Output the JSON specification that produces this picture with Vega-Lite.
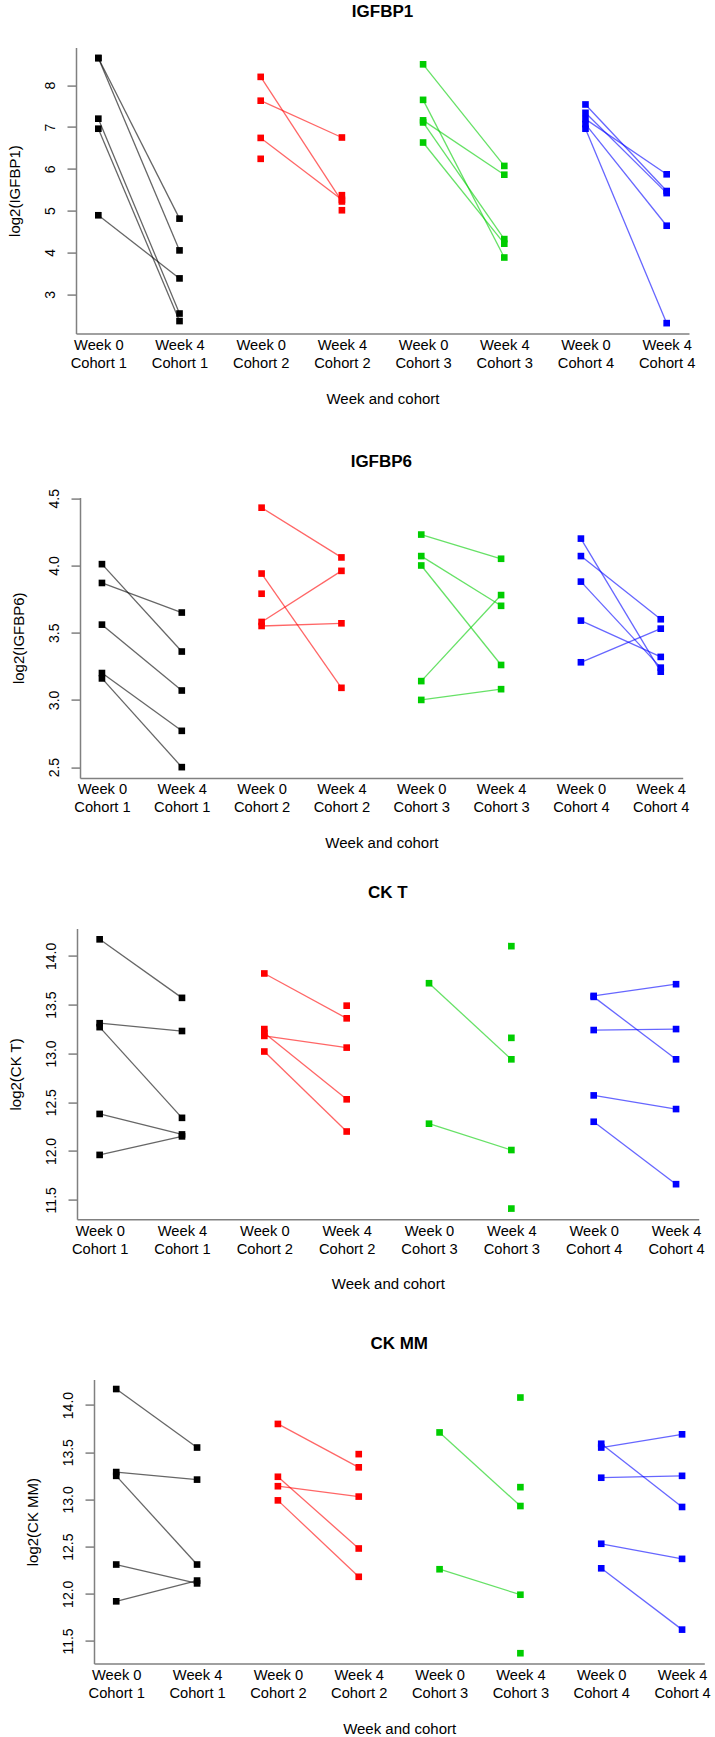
{
 "$schema": "https://vega.github.io/schema/vega-lite/v6.json",
 "padding": {"left": 6, "top": 2.6, "right": 3, "bottom": 0},
 "background": "white",
 "datasets": {"d": [
  {"p":"IGFBP1","c":"1","s":"a","x":"Week 0|Cohort 1","v":8.65},{"p":"IGFBP1","c":"1","s":"a","x":"Week 4|Cohort 1","v":4.81},
  {"p":"IGFBP1","c":"1","s":"b","x":"Week 0|Cohort 1","v":8.65},{"p":"IGFBP1","c":"1","s":"b","x":"Week 4|Cohort 1","v":4.05},
  {"p":"IGFBP1","c":"1","s":"c","x":"Week 0|Cohort 1","v":7.20},{"p":"IGFBP1","c":"1","s":"c","x":"Week 4|Cohort 1","v":2.54},
  {"p":"IGFBP1","c":"1","s":"d","x":"Week 0|Cohort 1","v":6.96},{"p":"IGFBP1","c":"1","s":"d","x":"Week 4|Cohort 1","v":2.36},
  {"p":"IGFBP1","c":"1","s":"e","x":"Week 0|Cohort 1","v":4.89},{"p":"IGFBP1","c":"1","s":"e","x":"Week 4|Cohort 1","v":3.38},
  {"p":"IGFBP1","c":"2","s":"a","x":"Week 0|Cohort 2","v":8.20},{"p":"IGFBP1","c":"2","s":"a","x":"Week 4|Cohort 2","v":5.22},
  {"p":"IGFBP1","c":"2","s":"b","x":"Week 0|Cohort 2","v":7.63},{"p":"IGFBP1","c":"2","s":"b","x":"Week 4|Cohort 2","v":6.75},
  {"p":"IGFBP1","c":"2","s":"c","x":"Week 0|Cohort 2","v":6.74},{"p":"IGFBP1","c":"2","s":"c","x":"Week 4|Cohort 2","v":5.26},
  {"p":"IGFBP1","c":"2","s":"d","x":"Week 0|Cohort 2","v":6.24},
  {"p":"IGFBP1","c":"2","s":"e","x":"Week 4|Cohort 2","v":5.37},
  {"p":"IGFBP1","c":"2","s":"f","x":"Week 4|Cohort 2","v":5.01},
  {"p":"IGFBP1","c":"3","s":"a","x":"Week 0|Cohort 3","v":8.50},{"p":"IGFBP1","c":"3","s":"a","x":"Week 4|Cohort 3","v":6.07},
  {"p":"IGFBP1","c":"3","s":"b","x":"Week 0|Cohort 3","v":7.65},{"p":"IGFBP1","c":"3","s":"b","x":"Week 4|Cohort 3","v":3.88},
  {"p":"IGFBP1","c":"3","s":"c","x":"Week 0|Cohort 3","v":7.16},{"p":"IGFBP1","c":"3","s":"c","x":"Week 4|Cohort 3","v":5.86},
  {"p":"IGFBP1","c":"3","s":"d","x":"Week 0|Cohort 3","v":7.11},{"p":"IGFBP1","c":"3","s":"d","x":"Week 4|Cohort 3","v":4.32},
  {"p":"IGFBP1","c":"3","s":"e","x":"Week 0|Cohort 3","v":6.63},{"p":"IGFBP1","c":"3","s":"e","x":"Week 4|Cohort 3","v":4.21},
  {"p":"IGFBP1","c":"4","s":"a","x":"Week 0|Cohort 4","v":7.54},{"p":"IGFBP1","c":"4","s":"a","x":"Week 4|Cohort 4","v":5.47},
  {"p":"IGFBP1","c":"4","s":"b","x":"Week 0|Cohort 4","v":7.34},{"p":"IGFBP1","c":"4","s":"b","x":"Week 4|Cohort 4","v":5.42},
  {"p":"IGFBP1","c":"4","s":"c","x":"Week 0|Cohort 4","v":7.19},{"p":"IGFBP1","c":"4","s":"c","x":"Week 4|Cohort 4","v":5.87},
  {"p":"IGFBP1","c":"4","s":"d","x":"Week 0|Cohort 4","v":7.07},{"p":"IGFBP1","c":"4","s":"d","x":"Week 4|Cohort 4","v":4.64},
  {"p":"IGFBP1","c":"4","s":"e","x":"Week 0|Cohort 4","v":6.96},{"p":"IGFBP1","c":"4","s":"e","x":"Week 4|Cohort 4","v":2.31},

  {"p":"IGFBP6","c":"1","s":"a","x":"Week 0|Cohort 1","v":4.01},{"p":"IGFBP6","c":"1","s":"a","x":"Week 4|Cohort 1","v":3.36},
  {"p":"IGFBP6","c":"1","s":"b","x":"Week 0|Cohort 1","v":3.87},{"p":"IGFBP6","c":"1","s":"b","x":"Week 4|Cohort 1","v":3.65},
  {"p":"IGFBP6","c":"1","s":"c","x":"Week 0|Cohort 1","v":3.56},{"p":"IGFBP6","c":"1","s":"c","x":"Week 4|Cohort 1","v":3.07},
  {"p":"IGFBP6","c":"1","s":"d","x":"Week 0|Cohort 1","v":3.20},{"p":"IGFBP6","c":"1","s":"d","x":"Week 4|Cohort 1","v":2.77},
  {"p":"IGFBP6","c":"1","s":"e","x":"Week 0|Cohort 1","v":3.16},{"p":"IGFBP6","c":"1","s":"e","x":"Week 4|Cohort 1","v":2.50},
  {"p":"IGFBP6","c":"2","s":"a","x":"Week 0|Cohort 2","v":4.43},{"p":"IGFBP6","c":"2","s":"a","x":"Week 4|Cohort 2","v":4.06},
  {"p":"IGFBP6","c":"2","s":"b","x":"Week 0|Cohort 2","v":3.94},{"p":"IGFBP6","c":"2","s":"b","x":"Week 4|Cohort 2","v":3.09},
  {"p":"IGFBP6","c":"2","s":"c","x":"Week 0|Cohort 2","v":3.58},{"p":"IGFBP6","c":"2","s":"c","x":"Week 4|Cohort 2","v":3.96},
  {"p":"IGFBP6","c":"2","s":"d","x":"Week 0|Cohort 2","v":3.55},{"p":"IGFBP6","c":"2","s":"d","x":"Week 4|Cohort 2","v":3.57},
  {"p":"IGFBP6","c":"2","s":"e","x":"Week 0|Cohort 2","v":3.79},
  {"p":"IGFBP6","c":"3","s":"a","x":"Week 0|Cohort 3","v":4.23},{"p":"IGFBP6","c":"3","s":"a","x":"Week 4|Cohort 3","v":4.05},
  {"p":"IGFBP6","c":"3","s":"b","x":"Week 0|Cohort 3","v":4.07},{"p":"IGFBP6","c":"3","s":"b","x":"Week 4|Cohort 3","v":3.70},
  {"p":"IGFBP6","c":"3","s":"c","x":"Week 0|Cohort 3","v":4.00},{"p":"IGFBP6","c":"3","s":"c","x":"Week 4|Cohort 3","v":3.26},
  {"p":"IGFBP6","c":"3","s":"d","x":"Week 0|Cohort 3","v":3.14},{"p":"IGFBP6","c":"3","s":"d","x":"Week 4|Cohort 3","v":3.78},
  {"p":"IGFBP6","c":"3","s":"e","x":"Week 0|Cohort 3","v":3.00},{"p":"IGFBP6","c":"3","s":"e","x":"Week 4|Cohort 3","v":3.08},
  {"p":"IGFBP6","c":"4","s":"a","x":"Week 0|Cohort 4","v":4.20},{"p":"IGFBP6","c":"4","s":"a","x":"Week 4|Cohort 4","v":3.21},
  {"p":"IGFBP6","c":"4","s":"b","x":"Week 0|Cohort 4","v":4.07},{"p":"IGFBP6","c":"4","s":"b","x":"Week 4|Cohort 4","v":3.60},
  {"p":"IGFBP6","c":"4","s":"c","x":"Week 0|Cohort 4","v":3.88},{"p":"IGFBP6","c":"4","s":"c","x":"Week 4|Cohort 4","v":3.24},
  {"p":"IGFBP6","c":"4","s":"d","x":"Week 0|Cohort 4","v":3.59},{"p":"IGFBP6","c":"4","s":"d","x":"Week 4|Cohort 4","v":3.32},
  {"p":"IGFBP6","c":"4","s":"e","x":"Week 0|Cohort 4","v":3.28},{"p":"IGFBP6","c":"4","s":"e","x":"Week 4|Cohort 4","v":3.53},

  {"p":"CK T","c":"1","s":"a","x":"Week 0|Cohort 1","v":14.17},{"p":"CK T","c":"1","s":"a","x":"Week 4|Cohort 1","v":13.57},
  {"p":"CK T","c":"1","s":"b","x":"Week 0|Cohort 1","v":13.31},{"p":"CK T","c":"1","s":"b","x":"Week 4|Cohort 1","v":13.23},
  {"p":"CK T","c":"1","s":"c","x":"Week 0|Cohort 1","v":13.27},{"p":"CK T","c":"1","s":"c","x":"Week 4|Cohort 1","v":12.34},
  {"p":"CK T","c":"1","s":"d","x":"Week 0|Cohort 1","v":12.38},{"p":"CK T","c":"1","s":"d","x":"Week 4|Cohort 1","v":12.17},
  {"p":"CK T","c":"1","s":"e","x":"Week 0|Cohort 1","v":11.96},{"p":"CK T","c":"1","s":"e","x":"Week 4|Cohort 1","v":12.15},
  {"p":"CK T","c":"2","s":"a","x":"Week 0|Cohort 2","v":13.82},{"p":"CK T","c":"2","s":"a","x":"Week 4|Cohort 2","v":13.36},
  {"p":"CK T","c":"2","s":"b","x":"Week 0|Cohort 2","v":13.21},{"p":"CK T","c":"2","s":"b","x":"Week 4|Cohort 2","v":12.53},
  {"p":"CK T","c":"2","s":"c","x":"Week 0|Cohort 2","v":13.18},{"p":"CK T","c":"2","s":"c","x":"Week 4|Cohort 2","v":13.06},
  {"p":"CK T","c":"2","s":"d","x":"Week 0|Cohort 2","v":13.02},{"p":"CK T","c":"2","s":"d","x":"Week 4|Cohort 2","v":12.20},
  {"p":"CK T","c":"2","s":"e","x":"Week 0|Cohort 2","v":13.25},
  {"p":"CK T","c":"2","s":"f","x":"Week 4|Cohort 2","v":13.49},
  {"p":"CK T","c":"3","s":"a","x":"Week 0|Cohort 3","v":13.72},{"p":"CK T","c":"3","s":"a","x":"Week 4|Cohort 3","v":12.94},
  {"p":"CK T","c":"3","s":"b","x":"Week 0|Cohort 3","v":12.28},{"p":"CK T","c":"3","s":"b","x":"Week 4|Cohort 3","v":12.01},
  {"p":"CK T","c":"3","s":"c","x":"Week 4|Cohort 3","v":14.10},
  {"p":"CK T","c":"3","s":"d","x":"Week 4|Cohort 3","v":13.16},
  {"p":"CK T","c":"3","s":"e","x":"Week 4|Cohort 3","v":11.41},
  {"p":"CK T","c":"4","s":"a","x":"Week 0|Cohort 4","v":13.59},{"p":"CK T","c":"4","s":"a","x":"Week 4|Cohort 4","v":13.71},
  {"p":"CK T","c":"4","s":"b","x":"Week 0|Cohort 4","v":13.58},{"p":"CK T","c":"4","s":"b","x":"Week 4|Cohort 4","v":12.94},
  {"p":"CK T","c":"4","s":"c","x":"Week 0|Cohort 4","v":13.24},{"p":"CK T","c":"4","s":"c","x":"Week 4|Cohort 4","v":13.25},
  {"p":"CK T","c":"4","s":"d","x":"Week 0|Cohort 4","v":12.57},{"p":"CK T","c":"4","s":"d","x":"Week 4|Cohort 4","v":12.43},
  {"p":"CK T","c":"4","s":"e","x":"Week 0|Cohort 4","v":12.30},{"p":"CK T","c":"4","s":"e","x":"Week 4|Cohort 4","v":11.66},

  {"p":"CK MM","c":"1","s":"a","x":"Week 0|Cohort 1","v":14.17},{"p":"CK MM","c":"1","s":"a","x":"Week 4|Cohort 1","v":13.55},
  {"p":"CK MM","c":"1","s":"b","x":"Week 0|Cohort 1","v":13.29},{"p":"CK MM","c":"1","s":"b","x":"Week 4|Cohort 1","v":13.21},
  {"p":"CK MM","c":"1","s":"c","x":"Week 0|Cohort 1","v":13.25},{"p":"CK MM","c":"1","s":"c","x":"Week 4|Cohort 1","v":12.31},
  {"p":"CK MM","c":"1","s":"d","x":"Week 0|Cohort 1","v":12.31},{"p":"CK MM","c":"1","s":"d","x":"Week 4|Cohort 1","v":12.11},
  {"p":"CK MM","c":"1","s":"e","x":"Week 0|Cohort 1","v":11.92},{"p":"CK MM","c":"1","s":"e","x":"Week 4|Cohort 1","v":12.14},
  {"p":"CK MM","c":"2","s":"a","x":"Week 0|Cohort 2","v":13.80},{"p":"CK MM","c":"2","s":"a","x":"Week 4|Cohort 2","v":13.34},
  {"p":"CK MM","c":"2","s":"b","x":"Week 0|Cohort 2","v":13.24},{"p":"CK MM","c":"2","s":"b","x":"Week 4|Cohort 2","v":12.48},
  {"p":"CK MM","c":"2","s":"c","x":"Week 0|Cohort 2","v":13.14},{"p":"CK MM","c":"2","s":"c","x":"Week 4|Cohort 2","v":13.03},
  {"p":"CK MM","c":"2","s":"d","x":"Week 0|Cohort 2","v":12.99},{"p":"CK MM","c":"2","s":"d","x":"Week 4|Cohort 2","v":12.18},
  {"p":"CK MM","c":"2","s":"e","x":"Week 4|Cohort 2","v":13.48},
  {"p":"CK MM","c":"3","s":"a","x":"Week 0|Cohort 3","v":13.71},{"p":"CK MM","c":"3","s":"a","x":"Week 4|Cohort 3","v":12.93},
  {"p":"CK MM","c":"3","s":"b","x":"Week 0|Cohort 3","v":12.26},{"p":"CK MM","c":"3","s":"b","x":"Week 4|Cohort 3","v":11.99},
  {"p":"CK MM","c":"3","s":"c","x":"Week 4|Cohort 3","v":14.08},
  {"p":"CK MM","c":"3","s":"d","x":"Week 4|Cohort 3","v":13.13},
  {"p":"CK MM","c":"3","s":"e","x":"Week 4|Cohort 3","v":11.37},
  {"p":"CK MM","c":"4","s":"a","x":"Week 0|Cohort 4","v":13.59},{"p":"CK MM","c":"4","s":"a","x":"Week 4|Cohort 4","v":12.92},
  {"p":"CK MM","c":"4","s":"b","x":"Week 0|Cohort 4","v":13.55},{"p":"CK MM","c":"4","s":"b","x":"Week 4|Cohort 4","v":13.69},
  {"p":"CK MM","c":"4","s":"c","x":"Week 0|Cohort 4","v":13.23},{"p":"CK MM","c":"4","s":"c","x":"Week 4|Cohort 4","v":13.25},
  {"p":"CK MM","c":"4","s":"d","x":"Week 0|Cohort 4","v":12.53},{"p":"CK MM","c":"4","s":"d","x":"Week 4|Cohort 4","v":12.37},
  {"p":"CK MM","c":"4","s":"e","x":"Week 0|Cohort 4","v":12.27},{"p":"CK MM","c":"4","s":"e","x":"Week 4|Cohort 4","v":11.62}
 ]},
 "data": {"name": "d"},
 "spacing": 0,
 "vconcat": [
  {"spacing": 0, "hconcat": [
   {"width": 1, "height": 1, "data": {"values": []}, "mark": "point"},
   {
   "width": 613, "height": 286,
   "title": {"text": "IGFBP1", "offset": 27},
   "transform": [{"filter": {"field": "p", "equal": "IGFBP1"}}],
   "encoding": {
    "x": {"field": "x", "type": "ordinal", "scale": {"type": "point", "padding": 0.275, "domain": ["Week 0|Cohort 1","Week 4|Cohort 1","Week 0|Cohort 2","Week 4|Cohort 2","Week 0|Cohort 3","Week 4|Cohort 3","Week 0|Cohort 4","Week 4|Cohort 4"]}, "axis": {"title": "Week and cohort", "labelExpr": "split(datum.value, '|')", "titleY": 69.5}},
    "y": {"field": "v", "type": "quantitative", "scale": {"domain": [2.06, 8.9], "nice": false, "zero": false}, "axis": {"title": "log2(IGFBP1)", "values": [3,4,5,6,7,8], "format": "d", "titleX": -56.5, "titleY": 143}},
    "color": {"field": "c", "type": "nominal", "scale": {"domain": ["1","2","3","4"], "range": ["#000000","#FF0000","#00CD00","#0000FF"]}, "legend": null}
   },
   "layer": [
    {"mark": {"type": "line", "strokeWidth": 1.3, "opacity": 0.6}, "encoding": {"detail": {"field": "s"}}},
    {"mark": {"type": "square", "size": 44, "opacity": 1, "filled": true}}
   ]
  }]},
  {"width": 1, "height": 44.3, "data": {"values": []}, "mark": "point"},
  {"spacing": 0, "hconcat": [
   {"width": 5, "height": 1, "data": {"values": []}, "mark": "point"},
   {
   "width": 602.7, "height": 280.3,
   "title": {"text": "IGFBP6", "offset": 18},
   "transform": [{"filter": {"field": "p", "equal": "IGFBP6"}}],
   "encoding": {
    "x": {"field": "x", "type": "ordinal", "scale": {"type": "point", "padding": 0.275, "domain": ["Week 0|Cohort 1","Week 4|Cohort 1","Week 0|Cohort 2","Week 4|Cohort 2","Week 0|Cohort 3","Week 4|Cohort 3","Week 0|Cohort 4","Week 4|Cohort 4"]}, "axis": {"title": "Week and cohort", "labelExpr": "split(datum.value, '|')", "titleY": 69.5}},
    "y": {"field": "v", "type": "quantitative", "scale": {"domain": [2.42, 4.505], "nice": false, "zero": false}, "axis": {"title": "log2(IGFBP6)", "values": [2.5,3,3.5,4,4.5], "format": ".1f", "titleX": -56.5, "titleY": 140.2}},
    "color": {"field": "c", "type": "nominal", "scale": {"domain": ["1","2","3","4"], "range": ["#000000","#FF0000","#00CD00","#0000FF"]}, "legend": null}
   },
   "layer": [
    {"mark": {"type": "line", "strokeWidth": 1.3, "opacity": 0.6}, "encoding": {"detail": {"field": "s"}}},
    {"mark": {"type": "square", "size": 44, "opacity": 1, "filled": true}}
   ]
  }]},
  {"width": 1, "height": 32.9, "data": {"values": []}, "mark": "point"},
  {"spacing": 0, "hconcat": [
   {"width": 2, "height": 1, "data": {"values": []}, "mark": "point"},
   {
   "width": 621.7, "height": 290.7,
   "title": {"text": "CK T", "offset": 27},
   "transform": [{"filter": {"field": "p", "equal": "CK T"}}],
   "encoding": {
    "x": {"field": "x", "type": "ordinal", "scale": {"type": "point", "padding": 0.275, "domain": ["Week 0|Cohort 1","Week 4|Cohort 1","Week 0|Cohort 2","Week 4|Cohort 2","Week 0|Cohort 3","Week 4|Cohort 3","Week 0|Cohort 4","Week 4|Cohort 4"]}, "axis": {"title": "Week and cohort", "labelExpr": "split(datum.value, '|')", "titleY": 69.5}},
    "y": {"field": "v", "type": "quantitative", "scale": {"domain": [11.30, 14.28], "nice": false, "zero": false}, "axis": {"title": "log2(CK T)", "values": [11.5,12,12.5,13,13.5,14], "format": ".1f", "titleX": -56.5, "titleY": 145.3}},
    "color": {"field": "c", "type": "nominal", "scale": {"domain": ["1","2","3","4"], "range": ["#000000","#FF0000","#00CD00","#0000FF"]}, "legend": null}
   },
   "layer": [
    {"mark": {"type": "line", "strokeWidth": 1.3, "opacity": 0.6}, "encoding": {"detail": {"field": "s"}}},
    {"mark": {"type": "square", "size": 44, "opacity": 1, "filled": true}}
   ]
  }]},
  {"width": 1, "height": 41.9, "data": {"values": []}, "mark": "point"},
  {"spacing": 0, "hconcat": [
   {"width": 19, "height": 1, "data": {"values": []}, "mark": "point"},
   {
   "width": 610.3, "height": 284,
   "title": {"text": "CK MM", "offset": 27},
   "transform": [{"filter": {"field": "p", "equal": "CK MM"}}],
   "encoding": {
    "x": {"field": "x", "type": "ordinal", "scale": {"type": "point", "padding": 0.275, "domain": ["Week 0|Cohort 1","Week 4|Cohort 1","Week 0|Cohort 2","Week 4|Cohort 2","Week 0|Cohort 3","Week 4|Cohort 3","Week 0|Cohort 4","Week 4|Cohort 4"]}, "axis": {"title": "Week and cohort", "labelExpr": "split(datum.value, '|')", "titleY": 69.5}},
    "y": {"field": "v", "type": "quantitative", "scale": {"domain": [11.26, 14.27], "nice": false, "zero": false}, "axis": {"title": "log2(CK MM)", "values": [11.5,12,12.5,13,13.5,14], "format": ".1f", "titleX": -56.5, "titleY": 142}},
    "color": {"field": "c", "type": "nominal", "scale": {"domain": ["1","2","3","4"], "range": ["#000000","#FF0000","#00CD00","#0000FF"]}, "legend": null}
   },
   "layer": [
    {"mark": {"type": "line", "strokeWidth": 1.3, "opacity": 0.6}, "encoding": {"detail": {"field": "s"}}},
    {"mark": {"type": "square", "size": 44, "opacity": 1, "filled": true}}
   ]
  }]}
 ],
 "config": {
  "view": {"stroke": null},
  "font": "Liberation Sans",
  "axis": {"domainColor": "#808080", "domainWidth": 1.5, "tickColor": "#808080", "tickWidth": 1.5, "labelColor": "#000000", "titleColor": "#000000", "labelFont": "Liberation Sans", "titleFont": "Liberation Sans", "titleFontWeight": "normal", "grid": false},
  "axisX": {"ticks": false, "tickSize": 0, "labelAngle": 0, "labelAlign": "center", "labelFontSize": 14.7, "labelLineHeight": 18, "labelBaseline": "top", "labelPadding": 4, "titleFontSize": 15, "titleBaseline": "alphabetic", "titleAlign": "center"},
  "axisY": {"labelAngle": 270, "labelAlign": "center", "labelBaseline": "alphabetic", "labelPadding": 13, "tickSize": 9, "labelFontSize": 14, "titleFontSize": 15, "titleAngle": 270, "titleBaseline": "alphabetic", "titleAlign": "center", "labelFlush": false, "labelOverlap": false},
  "title": {"fontSize": 17, "fontWeight": "bold", "font": "Liberation Sans", "color": "#000000", "anchor": "middle", "frame": "group", "baseline": "alphabetic"}
 }
}
